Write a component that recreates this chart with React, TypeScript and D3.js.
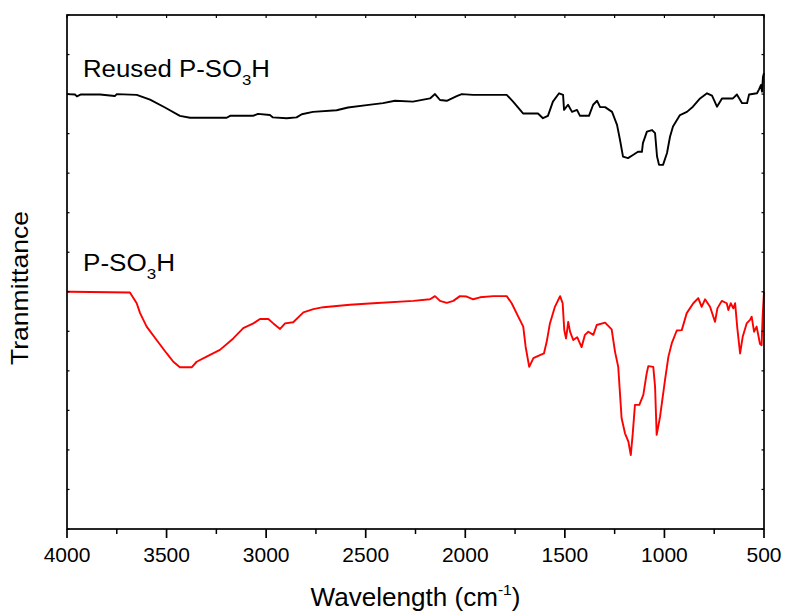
import React from 'react';
import * as d3 from 'd3';

// FT-IR spectra: wavenumber (cm-1) and transmittance (arbitrary offset units)
const reusedWavenumber = [
  4000, 3960, 3950, 3930, 3834, 3760, 3750, 3650, 3583, 3508, 3433, 3382, 3198, 3181, 3066,
  3041, 2981, 2966, 2897, 2847, 2821, 2765, 2646, 2589, 2495, 2413, 2353, 2263, 2177, 2152,
  2127, 2093, 2043, 2018, 1961, 1792, 1760, 1710, 1635, 1610, 1585, 1560, 1529, 1509, 1504,
  1484, 1464, 1439, 1424, 1379, 1358, 1338, 1323, 1298, 1263, 1238, 1223, 1208, 1183, 1158,
  1133, 1113, 1108, 1088, 1062, 1047, 1037, 1027, 1007, 987, 972, 957, 922, 887, 857,
  821, 786, 761, 736, 711, 656, 636, 610, 585, 575, 535, 525, 515, 510, 505, 500,
];
const reusedTransmittance = [
  110.0, 109.9, 109.4, 109.9, 109.9, 109.5, 110.0, 109.8, 108.6, 106.6, 104.5, 104.0, 104.0, 104.5, 104.5,
  105.0, 104.7, 104.1, 103.9, 104.1, 104.9, 105.5, 105.9, 106.6, 107.2, 107.7, 108.3, 108.1, 108.9, 110.0,
  108.5, 108.3, 109.5, 110.0, 109.8, 109.8, 108.1, 105.1, 105.1, 103.9, 104.5, 108.1, 110.2, 109.8, 106.0,
  107.3, 105.5, 106.0, 104.5, 104.5, 107.3, 108.3, 106.7, 106.7, 105.5, 102.2, 98.4, 94.2, 93.8, 94.6,
  95.4, 95.4, 97.6, 100.5, 100.9, 100.1, 94.2, 92.1, 92.1, 95.1, 99.2, 101.8, 104.7, 105.5, 106.8,
  108.9, 110.2, 109.6, 106.8, 108.9, 108.9, 109.9, 107.7, 107.7, 109.9, 110.2, 111.2, 112.3, 110.6, 114.4, 115.3,
];

const freshWavenumber = [
  4000, 3981, 3684, 3650, 3633, 3600, 3550, 3499, 3466, 3433, 3374, 3349, 3299, 3232, 3165,
  3115, 3064, 3031, 2989, 2964, 2930, 2905, 2864, 2813, 2763, 2713, 2579, 2462, 2261, 2177,
  2152, 2127, 2093, 2060, 2027, 1993, 1960, 1926, 1859, 1792, 1767, 1734, 1709, 1697, 1679,
  1658, 1625, 1605, 1591, 1575, 1550, 1524, 1511, 1503, 1494, 1483, 1474, 1458, 1438, 1416,
  1399, 1382, 1357, 1340, 1298, 1265, 1248, 1232, 1215, 1198, 1181, 1169, 1159, 1148, 1126,
  1106, 1089, 1081, 1056, 1047, 1039, 1022, 997, 980, 963, 938, 913, 888, 855, 830,
  813, 796, 771, 746, 734, 712, 687, 679, 667, 654, 645, 634, 620, 607, 587,
  570, 562, 550, 537, 520, 512, 507, 500,
];
const freshTransmittance = [
  60.0, 60.0, 59.8, 57.1, 54.6, 51.2, 47.8, 44.4, 42.3, 40.9, 40.9, 42.3, 43.6, 45.3, 48.2,
  50.8, 52.0, 53.1, 53.1, 52.0, 50.6, 52.0, 52.3, 54.8, 55.6, 56.1, 56.7, 57.1, 57.7, 58.1,
  58.9, 57.7, 57.2, 57.7, 58.9, 58.8, 58.1, 58.6, 58.9, 58.9, 57.1, 53.7, 51.2, 46.1, 41.0,
  43.2, 44.0, 44.4, 47.4, 52.0, 56.2, 58.9, 57.1, 50.3, 48.2, 52.4, 49.9, 47.8, 48.5, 46.0,
  49.1, 49.9, 49.1, 51.6, 52.2, 50.5, 44.8, 41.0, 28.0, 24.2, 22.1, 18.7, 24.2, 31.4, 31.4,
  33.9, 39.4, 41.2, 41.0, 36.0, 23.8, 28.4, 37.7, 43.6, 47.0, 50.2, 50.3, 54.6, 57.1, 58.4,
  56.2, 58.1, 56.2, 52.4, 55.8, 57.7, 57.1, 55.4, 57.1, 55.8, 57.1, 50.8, 44.4, 48.6, 52.0,
  52.9, 53.7, 49.9, 51.2, 46.8, 46.5, 53.7, 60.0,
];

const xTickValues = [4000, 3500, 3000, 2500, 2000, 1500, 1000, 500];

const WIDTH = 785;
const HEIGHT = 613;
const plot = { left: 67, right: 764, top: 15, bottom: 529 };
const FONT = 'Liberation Sans, Arial, sans-serif';

export default function App() {
  const x = d3.scaleLinear().domain([4000, 500]).range([plot.left, plot.right]);
  const y = d3.scaleLinear().domain([0, 130]).range([plot.bottom, plot.top]);

  const line = d3
    .line<[number, number]>()
    .x((d) => x(d[0]))
    .y((d) => y(d[1]));

  const reused = reusedWavenumber.map((w, i) => [w, reusedTransmittance[i]] as [number, number]);
  const fresh = freshWavenumber.map((w, i) => [w, freshTransmittance[i]] as [number, number]);

  const minorX = d3.range(4000, 499, -250).filter((v) => v % 500 !== 0);
  const allX = d3.range(4000, 499, -250);
  const yTicks = d3.range(0, 131, 10);

  return (
    <svg
      width={WIDTH}
      height={HEIGHT}
      style={{ position: 'absolute', left: 0, top: 0, background: '#fff' }}
      fontFamily={FONT}
    >
      <rect width={WIDTH} height={HEIGHT} fill="#fff" />

      {/* spectra */}
      <path d={line(reused) || ''} fill="none" stroke="#000" strokeWidth={1.9} strokeLinejoin="round" />
      <path d={line(fresh) || ''} fill="none" stroke="#ff0000" strokeWidth={1.9} strokeLinejoin="round" />

      {/* frame */}
      <rect
        x={plot.left}
        y={plot.top}
        width={plot.right - plot.left}
        height={plot.bottom - plot.top}
        fill="none"
        stroke="#000"
        strokeWidth={1.7}
      />

      {/* bottom axis: major and minor ticks */}
      {xTickValues.map((v) => (
        <g key={'bx' + v}>
          <line x1={x(v)} x2={x(v)} y1={plot.bottom} y2={plot.bottom + 9} stroke="#000" strokeWidth={1.7} />
          <text x={x(v)} y={562} fontSize={21} textAnchor="middle" fill="#000">
            {v}
          </text>
        </g>
      ))}
      {minorX.map((v) => (
        <line key={'mx' + v} x1={x(v)} x2={x(v)} y1={plot.bottom} y2={plot.bottom + 5} stroke="#000" strokeWidth={1.5} />
      ))}

      {/* top axis ticks */}
      {allX.map((v) => (
        <line key={'tx' + v} x1={x(v)} x2={x(v)} y1={plot.top} y2={plot.top + 3} stroke="#000" strokeWidth={1.2} />
      ))}

      {/* left and right axis ticks */}
      {yTicks.map((v) => (
        <g key={'y' + v}>
          <line x1={plot.left} x2={plot.left + 2.5} y1={y(v)} y2={y(v)} stroke="#000" strokeWidth={1.2} />
          <line x1={plot.right} x2={plot.right - 2.5} y1={y(v)} y2={y(v)} stroke="#000" strokeWidth={1.2} />
        </g>
      ))}

      {/* series labels */}
      <text x={83} y={77} fontSize={23} fill="#000" textLength={187} lengthAdjust="spacingAndGlyphs">
        Reused P-SO
        <tspan fontSize={15} dy={8}>3</tspan>
        <tspan dy={-8}>H</tspan>
      </text>
      <text x={83} y={271} fontSize={23} fill="#000" textLength={92} lengthAdjust="spacingAndGlyphs">
        P-SO
        <tspan fontSize={15} dy={8}>3</tspan>
        <tspan dy={-8}>H</tspan>
      </text>

      {/* axis titles */}
      <text
        x={(plot.left + plot.right) / 2}
        y={606}
        fontSize={25}
        textAnchor="middle"
        fill="#000"
        textLength={210}
        lengthAdjust="spacingAndGlyphs"
      >
        Wavelength (cm
        <tspan fontSize={15} dy={-11}>-1</tspan>
        <tspan dy={11}>)</tspan>
      </text>
      <text
        transform="translate(28,288) rotate(-90)"
        fontSize={24}
        textAnchor="middle"
        fill="#000"
        textLength={154}
        lengthAdjust="spacingAndGlyphs"
      >
        Tranmittance
      </text>
    </svg>
  );
}
